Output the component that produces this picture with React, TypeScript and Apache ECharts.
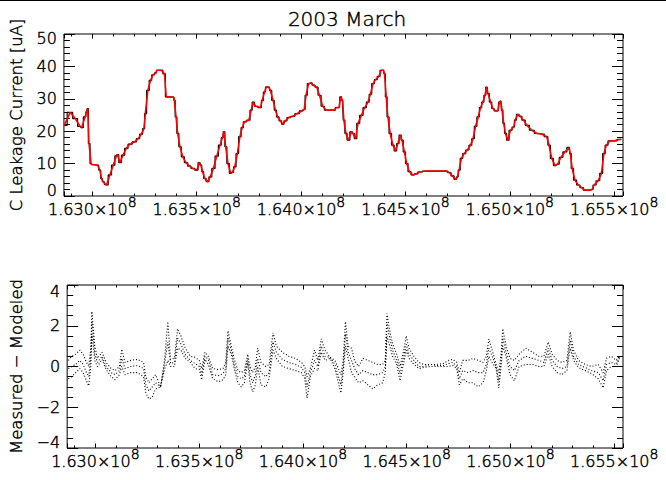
import React, { useEffect, useRef } from 'react';
import * as echarts from 'echarts';

// Time axis in units of 1e8 s (2003-03-01 .. 2003-04-01)
const T_START = 1.62864;
const T_END = 1.655424;

const times = [
  1.62865, 1.62894, 1.62918, 1.62941, 1.62949, 1.62965, 1.62973, 1.62978, 1.62984, 1.62994,
  1.63, 1.63025, 1.63036, 1.63044, 1.63052, 1.63063, 1.63068, 1.63084, 1.631, 1.63116,
  1.63121, 1.63132, 1.63147, 1.63163, 1.63179, 1.63203, 1.63219, 1.63235, 1.63247, 1.63254,
  1.63266, 1.63279, 1.6329, 1.63306, 1.63309, 1.6333, 1.63346, 1.63354, 1.6339, 1.63393,
  1.63401, 1.63409, 1.6342, 1.63433, 1.63449, 1.63465, 1.6348, 1.63501, 1.63512, 1.6352,
  1.63528, 1.63539, 1.63552, 1.63565, 1.6358, 1.63596, 1.63612, 1.63623, 1.63631, 1.63639,
  1.6365, 1.63663, 1.63671, 1.63682, 1.63695, 1.63707, 1.63718, 1.63729, 1.6375, 1.63761,
  1.63771, 1.63782, 1.63806, 1.63814, 1.63825, 1.63834, 1.63845, 1.63853, 1.63866, 1.63877,
  1.63888, 1.63901, 1.63912, 1.63925, 1.6394, 1.63961, 1.6398, 1.64004, 1.64015, 1.64024,
  1.64036, 1.64047, 1.64059, 1.64075, 1.64088, 1.64104, 1.6412, 1.64139, 1.64158, 1.6417,
  1.64183, 1.64189, 1.64199, 1.64205, 1.64215, 1.64226, 1.64242, 1.64249, 1.64261, 1.64273,
  1.64289, 1.64305, 1.64321, 1.64332, 1.64345, 1.64357, 1.64373, 1.64384, 1.64395, 1.644,
  1.64408, 1.64416, 1.64427, 1.6444, 1.64452, 1.64464, 1.64475, 1.64484, 1.64495, 1.64506,
  1.64519, 1.64535, 1.64551, 1.64567, 1.64598, 1.64646, 1.64693, 1.64712, 1.64725, 1.64741,
  1.64749, 1.64757, 1.64768, 1.64781, 1.64797, 1.64812, 1.64824, 1.64836, 1.64849, 1.6486,
  1.64871, 1.64881, 1.64889, 1.64896, 1.64908, 1.64919, 1.64931, 1.64944, 1.6495, 1.64957,
  1.64963, 1.64971, 1.64979, 1.6499, 1.65003, 1.65019, 1.65026, 1.65038, 1.6505, 1.65066,
  1.65082, 1.65106, 1.6513, 1.65153, 1.65177, 1.65188, 1.65201, 1.65217, 1.65229, 1.65245,
  1.65264, 1.65283, 1.6529, 1.65299, 1.65312, 1.65328, 1.65344, 1.6536, 1.65379, 1.65394,
  1.65404, 1.65423, 1.65439, 1.65451, 1.65463, 1.65478, 1.65494, 1.65534,
];

const leakage = [
  21.8, 25.8, 23.9, 21.5, 21.1, 24.4, 26.0, 27.0, 16.2, 10.0,
  9.7, 9.5, 8.0, 5.4, 4.4, 3.6, 3.4, 6.5, 9.5, 12.4,
  12.8, 10.3, 12.6, 14.7, 16.0, 16.7, 17.7, 19.1, 20.8, 25.4,
  32.6, 35.7, 37.4, 38.0, 38.8, 38.8, 37.7, 30.6, 30.5, 29.5,
  24.4, 19.3, 15.2, 12.1, 10.3, 9.2, 8.5, 8.0, 10.3, 9.5,
  7.5, 5.4, 4.4, 5.9, 8.5, 12.3, 15.7, 18.0, 19.8, 15.2,
  10.0, 7.0, 7.3, 9.0, 13.1, 18.3, 21.1, 22.9, 23.4, 26.5,
  29.0, 27.7, 27.3, 29.5, 32.1, 33.6, 33.6, 32.6, 29.5, 26.5,
  24.4, 23.2, 22.2, 23.2, 24.2, 24.6, 25.4, 26.3, 26.7, 31.1,
  34.7, 34.9, 34.2, 33.6, 31.1, 27.7, 26.5, 26.5, 26.5, 27.3,
  27.3, 30.6, 29.5, 23.4, 19.3, 17.2, 19.8, 19.3, 17.7, 22.4,
  24.9, 27.3, 29.0, 31.4, 34.7, 35.9, 36.9, 38.8, 38.8, 37.7,
  30.6, 24.4, 19.3, 15.7, 13.9, 16.2, 18.8, 17.2, 13.6, 10.0,
  7.5, 6.5, 6.8, 7.4, 7.7, 7.7, 7.7, 7.2, 6.2, 5.1,
  5.9, 8.0, 11.6, 13.1, 14.2, 15.7, 17.7, 21.5, 24.4, 27.3,
  29.0, 31.1, 33.6, 31.6, 29.0, 27.0, 26.3, 26.3, 29.0, 29.3,
  26.5, 22.4, 19.3, 17.2, 20.3, 21.3, 23.4, 25.2, 24.6, 23.4,
  21.8, 20.3, 19.3, 19.1, 18.3, 15.7, 11.6, 9.4, 9.8, 11.9,
  13.6, 15.0, 13.1, 8.5, 4.9, 3.4, 2.6, 1.8, 1.8, 2.0,
  3.4, 4.7, 7.0, 13.1, 15.7, 17.0, 17.0, 17.5,
];

const residTimes = [
  1.6287, 1.62886, 1.62905, 1.62925, 1.62941, 1.62957, 1.62968, 1.62978, 1.62983, 1.62989,
  1.62997, 1.6301, 1.63032, 1.63052, 1.63076, 1.63095, 1.63116, 1.63127, 1.63143, 1.63171,
  1.63203, 1.63232, 1.63243, 1.63258, 1.63274, 1.6329, 1.63314, 1.63333, 1.63349, 1.63362,
  1.63381, 1.63396, 1.63412, 1.63433, 1.63457, 1.6348, 1.63501, 1.63512, 1.63528, 1.63544,
  1.63565, 1.63592, 1.63615, 1.63628, 1.63639, 1.63655, 1.63671, 1.63687, 1.63703, 1.63718,
  1.63734, 1.63745, 1.63758, 1.63771, 1.63782, 1.63798, 1.63821, 1.63837, 1.63856, 1.63872,
  1.63901, 1.63932, 1.63964, 1.63993, 1.64009, 1.6402, 1.64036, 1.64056, 1.64072, 1.64088,
  1.64107, 1.64131, 1.64154, 1.64183, 1.64194, 1.64205, 1.64218, 1.64234, 1.64249, 1.64268,
  1.64289, 1.64313, 1.64337, 1.6436, 1.64384, 1.64397, 1.64405, 1.64416, 1.64432, 1.64452,
  1.64468, 1.64484, 1.64498, 1.64511, 1.64535, 1.64559, 1.64582, 1.64614, 1.64646, 1.64678,
  1.64701, 1.64722, 1.64741, 1.64754, 1.6477, 1.64797, 1.6482, 1.64844, 1.64868, 1.64884,
  1.64896, 1.64912, 1.64931, 1.64944, 1.64955, 1.64963, 1.64979, 1.64998, 1.65019, 1.65042,
  1.65074, 1.65106, 1.65137, 1.65161, 1.65182, 1.65201, 1.65225, 1.65248, 1.65272, 1.65288,
  1.65304, 1.65328, 1.6536, 1.65391, 1.65423, 1.65447, 1.65463, 1.65486, 1.6551, 1.65526,
];

const residHigh = [
  0.3, 0.5, 0.6, 0.8, 0.6, 0.2, 0.0, 0.9, 2.7, 2.0,
  1.0, 0.4, 0.7, 0.2, -0.1, -0.2, 0.0, 0.85, 0.2, 0.3,
  0.35, 0.2, -0.5, -0.8, -0.6, -0.4, -1.0, 0.3, 2.2, 0.35,
  0.4, 1.85, 1.5, 0.9, 0.5, 0.45, 0.3, -0.1, 0.7, 0.5,
  -0.1, -0.15, -0.1, 0.2, 1.75, 1.0, 0.3, -0.2, -0.3, -0.2,
  0.6, 0.0, -0.3, 0.0, 0.9, 0.2, 0.0, 0.1, 1.65, 1.0,
  0.7, 0.5, 0.4, 0.2, 0.0, -0.5, -0.1, 0.8, 0.3, 1.35,
  0.8, 0.45, 0.3, -0.4, 0.3, 2.2, 1.0, 0.9, 0.3, 0.0,
  0.4, 0.3, 0.2, 0.1, 0.1, 0.3, 2.6, 1.9, 1.1, 0.6,
  0.0, 0.7, 1.5, 0.9, 0.5, 0.2, 0.1, 0.1, 0.1, 0.15,
  0.3, 0.35, 0.2, -0.3, 0.3, 0.3, 0.4, 0.3, 0.2, 0.5,
  1.35, 0.8, 0.1, -0.3, 0.6, 1.85, 1.0, 0.4, 0.3, 0.6,
  0.9, 0.7, 0.5, 0.5, 1.2, 0.6, 0.3, 0.2, 0.3, 1.7,
  0.8, 0.3, 0.1, 0.0, 0.1, -0.3, 0.4, 0.5, 0.3, 0.55,
];

const residMid = [
  -0.1, 0.0, 0.1, 0.3, 0.1, -0.3, -0.5, 0.5, 2.2, 1.6,
  0.6, 0.2, 0.5, 0.0, -0.3, -0.4, -0.2, 0.4, -0.1, 0.0,
  0.05, -0.1, -0.9, -1.2, -1.0, -0.8, -1.0, 0.1, 1.2, 0.15,
  0.2, 1.4, 1.1, 0.6, 0.3, 0.15, 0.0, -0.4, 0.5, 0.35,
  -0.4, -0.45, -0.35, -0.1, 1.4, 0.8, 0.0, -0.5, -0.6, -0.5,
  0.4, -0.4, -0.8, -0.4, 0.4, -0.3, -0.5, -0.3, 1.2, 0.7,
  0.35, 0.2, 0.1, -0.05, -0.3, -1.0, -0.3, 0.3, 0.0, 1.0,
  0.5, 0.45, 0.1, -0.9, 0.0, 1.6, 0.7, 0.3, -0.1, -0.4,
  -0.2, -0.3, -0.4, -0.4, -0.3, 0.0, 2.1, 1.5, 0.8, 0.3,
  -0.35, 0.4, 1.1, 0.6, 0.3, 0.0, 0.0, 0.1, 0.05, 0.05,
  0.15, 0.2, 0.0, -0.6, -0.2, -0.3, -0.2, -0.3, -0.3, 0.1,
  0.9, 0.5, 0.0, -0.7, 0.3, 1.4, 0.7, 0.0, -0.2, 0.3,
  0.5, 0.4, 0.3, 0.2, 0.9, 0.3, 0.0, -0.1, 0.0, 1.3,
  0.5, 0.1, -0.05, -0.2, -0.3, -0.7, 0.1, 0.2, 0.1, 0.5,
];

const residLow = [
  -0.6, -0.5, -0.3, -0.1, -0.3, -0.7, -0.95, 0.0, 1.6, 1.1,
  0.3, 0.0, 0.35, -0.15, -0.5, -0.65, -0.4, 0.0, -0.4, -0.3,
  -0.3, -0.5, -1.3, -1.6, -1.5, -1.1, -1.0, -0.15, 0.3, 0.0,
  0.0, 0.9, 0.8, 0.4, 0.2, -0.1, -0.15, -0.65, 0.35, 0.1,
  -0.6, -0.75, -0.65, -0.4, 1.0, 0.6, -0.2, -0.8, -1.0, -0.8,
  0.2, -0.8, -1.25, -0.9, 0.0, -0.9, -1.0, -0.6, 0.8, 0.4,
  0.0, -0.1, -0.2, -0.3, -0.6, -1.55, -0.5, -0.1, -0.2, 0.7,
  0.3, 0.4, -0.1, -1.3, -0.3, 1.0, 0.4, -0.3, -0.5, -0.8,
  -0.7, -0.9, -1.1, -0.9, -0.8, -0.3, 1.5, 1.1, 0.5, 0.1,
  -0.7, 0.1, 0.8, 0.4, 0.1, -0.1, -0.05, 0.0, 0.0, 0.0,
  0.0, 0.05, -0.1, -0.9, -0.6, -0.8, -0.8, -1.0, -0.8, -0.2,
  0.5, 0.2, -0.1, -1.05, 0.0, 1.0, 0.5, -0.4, -0.7, 0.0,
  0.1, 0.1, 0.0, 0.0, 0.6, 0.0, -0.3, -0.4, -0.2, 0.9,
  0.3, -0.05, -0.2, -0.35, -0.6, -1.05, -0.2, 0.0, 0.0, 0.45,
];

const TITLE = '2003 March';
const TOP_Y_NAME = 'C Leakage Current [uA]';
const BOTTOM_Y_NAME = 'Measured \u2212 Modeled';

const FONT = '"DejaVu Sans", "Noto Sans", sans-serif';
const WEIGHT = 200;
const BLACK = '#000000';
// thin black outline to darken the light strokes
const INK = { textBorderColor: BLACK, textBorderWidth: 0.45 };

const pair = (xs: number[], ys: number[]) => xs.map((x, i) => [x, ys[i]]);
const minus = (v: number) => String(v).replace('-', '\u2212');

function xAxes(gridIndex: number) {
  const common = {
    type: 'value',
    gridIndex,
    min: T_START,
    max: T_END,
    splitNumber: 5,
    splitLine: { show: false },
    axisLine: { show: false, onZero: false },
    axisTick: { show: true, inside: true, length: 4.5, lineStyle: { color: BLACK, width: 1 } },
    minorTick: { show: true, splitNumber: 5, length: 2.5, lineStyle: { color: BLACK, width: 1 } },
  };
  return [
    {
      ...common,
      position: 'bottom',
      axisLabel: {
        show: true,
        margin: 5,
        showMinLabel: false,
        showMaxLabel: false,
        formatter: (v: number) => `{m|${v.toFixed(3)}\u00d710}{e|8}`,
        rich: {
          m: { fontSize: 16, fontFamily: FONT, fontWeight: WEIGHT, color: BLACK, ...INK, lineHeight: 16, verticalAlign: 'bottom' },
          e: { fontSize: 14, fontFamily: FONT, fontWeight: WEIGHT, color: BLACK, ...INK, lineHeight: 14, padding: [0, 0, 8, 0], verticalAlign: 'bottom' },
        },
      },
    },
    { ...common, position: 'top', axisLabel: { show: false } },
  ];
}

function yAxes(
  gridIndex: number, min: number, max: number, interval: number, minorSplit: number,
  name: string, pullTop: number, pullBottom: number,
) {
  const common = {
    type: 'value',
    gridIndex,
    min,
    max,
    interval,
    splitLine: { show: false },
    axisLine: { show: false, onZero: false },
    axisTick: { show: true, inside: true, length: 11, lineStyle: { color: BLACK, width: 1 } },
    minorTick: { show: true, splitNumber: minorSplit, length: 6, lineStyle: { color: BLACK, width: 1 } },
  };
  const txt = { fontSize: 16, fontFamily: FONT, fontWeight: WEIGHT, color: BLACK, ...INK };
  return [
    {
      ...common,
      position: 'left',
      name,
      nameLocation: 'middle',
      nameRotate: 90,
      nameGap: 36,
      nameTextStyle: { fontSize: 16.5, fontFamily: FONT, fontWeight: WEIGHT, color: BLACK, ...INK },
      axisLabel: {
        show: true,
        margin: 7,
        formatter: (v: number) =>
          v === max ? `{t|${minus(v)}}` : v === min ? `{b|${minus(v)}}` : `{n|${minus(v)}}`,
        rich: {
          n: { ...txt },
          t: { ...txt, padding: [pullTop * 2, 0, 0, 0] },
          b: { ...txt, padding: [0, 0, pullBottom * 2, 0] },
        },
      },
    },
    { ...common, position: 'right', axisLabel: { show: false } },
  ];
}

const residSeries = (data: number[]) => ({
  type: 'line',
  xAxisIndex: 2,
  yAxisIndex: 2,
  data: pair(residTimes, data),
  symbol: 'none',
  silent: true,
  lineStyle: { color: BLACK, width: 1.1, type: [1, 2] },
});

export default function App() {
  const ref = useRef<HTMLDivElement>(null);
  useEffect(() => {
    if (!ref.current) return;
    const chart = echarts.init(ref.current, null, { renderer: 'svg' });
    const option = {
      animation: false,
      backgroundColor: '#ffffff',
      textStyle: { fontFamily: FONT },
      title: {
        text: TITLE,
        left: 342,
        top: 4,
        textAlign: 'center',
        textStyle: { fontSize: 20, fontWeight: WEIGHT, fontFamily: FONT, color: BLACK, ...INK },
      },
      graphic: [
        { type: 'rect', left: 0, top: 0, shape: { width: 666, height: 1 }, style: { fill: BLACK } },
      ],
      grid: [
        { left: 62, right: 43, top: 34, height: 162, show: true, borderColor: BLACK, borderWidth: 1, backgroundColor: 'transparent' },
        { left: 62, right: 43, top: 285, height: 163, show: true, borderColor: BLACK, borderWidth: 1, backgroundColor: 'transparent' },
      ],
      xAxis: [...xAxes(0), ...xAxes(1)],
      yAxis: [
        ...yAxes(0, 0, 50, 10, 5, TOP_Y_NAME, 4.5, 6),
        ...yAxes(1, -4, 4, 2, 4, BOTTOM_Y_NAME, 6, 6),
      ],
      series: [
        {
          type: 'line',
          xAxisIndex: 0,
          yAxisIndex: 0,
          data: pair(times, leakage),
          step: 'middle',
          symbol: 'none',
          silent: true,
          lineStyle: { color: BLACK, width: 1.2 },
        },
        {
          type: 'line',
          xAxisIndex: 0,
          yAxisIndex: 0,
          data: pair(times, leakage),
          symbol: 'none',
          silent: true,
          lineStyle: { color: '#ff0000', width: 1.6 },
        },
        residSeries(residHigh),
        residSeries(residMid),
        residSeries(residLow),
      ],
    };
    chart.setOption(option as any);
    return () => chart.dispose();
  }, []);
  return (
    <div
      ref={ref}
      style={{ position: 'fixed', left: 0, top: 0, width: 666, height: 480, background: '#ffffff' }}
    />
  );
}
